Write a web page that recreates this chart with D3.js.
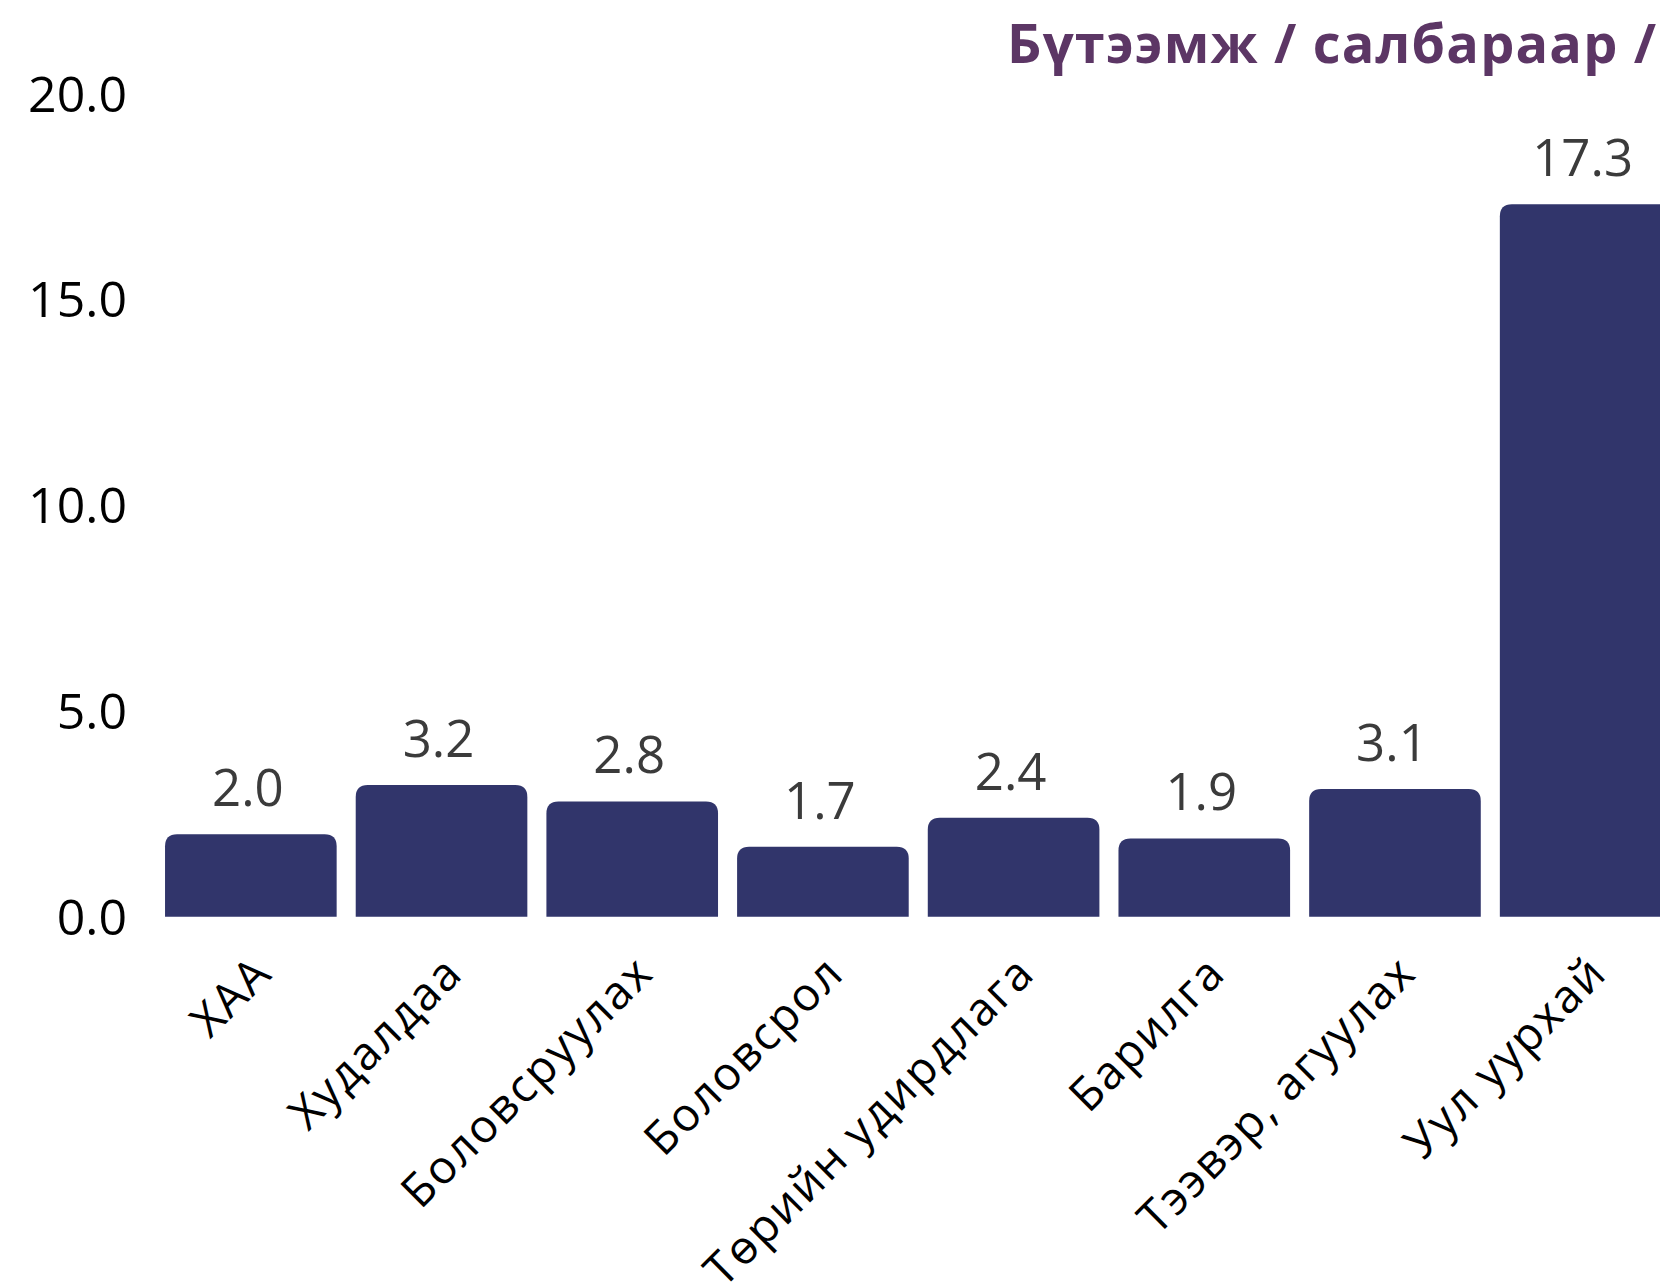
<!DOCTYPE html>
<html>
<head>
<meta charset="utf-8">
<script src="https://cdn.jsdelivr.net/npm/d3@7"></script>
<style>
  html, body { margin: 0; padding: 0; background: #fff; overflow: hidden; }
  svg { display: block; }
</style>
</head>
<body>
<svg id="chart" width="1660" height="1282"></svg>
<script>
// sectors and productivity values
var sectors = ["ХАА", "Худалдаа", "Боловсруулах", "Боловсрол", "Төрийн удирдлага", "Барилга", "Тээвэр, агуулах", "Уул уурхай"];
var values = [2.0, 3.2, 2.8, 1.7, 2.4, 1.9, 3.1, 17.3];
var yTicks = [0, 5, 10, 15, 20];
var title = "Бүтээмж / салбараар /";

var font = "'Open Sans', 'Noto Sans', sans-serif";
var barColor = "#31356b";

var svg = d3.select("#chart");

var x = d3.scaleBand()
  .domain(sectors)
  .range([155.5, 1681])
  .paddingInner(0.1)
  .paddingOuter(0.05);

var y = d3.scaleLinear()
  .domain([0, 20])
  .range([916.7, 93]);

// title (runs off the right edge like the original)
svg.append("text")
  .attr("x", 1007)
  .attr("y", 63)
  .attr("font-family", font)
  .attr("font-weight", 700)
  .attr("font-size", 54)
  .attr("letter-spacing", "1.2px")
  .attr("fill", "#5c3665")
  .text(title);

// y axis labels only, no line or ticks
var yAxis = d3.axisLeft(y)
  .tickValues(yTicks)
  .tickFormat(d3.format(".1f"))
  .tickSize(0)
  .tickPadding(0);

var gy = svg.append("g")
  .attr("transform", "translate(127,0)")
  .call(yAxis);
gy.select(".domain").remove();
gy.selectAll("text")
  .attr("font-family", font)
  .attr("font-size", 50)
  .attr("fill", "#000")
  .attr("dy", "0.36em");

// bars with rounded top corners
function barPath(d, i) {
  var x0 = x(sectors[i]), w = x.bandwidth();
  var top = y(d), base = y(0), r = 12;
  return "M" + x0 + "," + base +
    "V" + (top + r) +
    "Q" + x0 + "," + top + " " + (x0 + r) + "," + top +
    "H" + (x0 + w - r) +
    "Q" + (x0 + w) + "," + top + " " + (x0 + w) + "," + (top + r) +
    "V" + base + "Z";
}

svg.append("g")
  .selectAll("path")
  .data(values)
  .enter()
  .append("path")
  .attr("d", barPath)
  .attr("fill", barColor);

// value labels above bars
svg.append("g")
  .selectAll("text")
  .data(values)
  .enter()
  .append("text")
  .attr("x", function(d, i) { return x(sectors[i]) + x.bandwidth() / 2 - 3; })
  .attr("y", function(d) { return y(d) - 28; })
  .attr("text-anchor", "middle")
  .attr("font-family", font)
  .attr("font-size", 51)
  .attr("fill", "#3b3b3b")
  .text(function(d) { return d3.format(".1f")(d); });

// rotated category labels
var gx = svg.append("g")
  .attr("transform", "translate(0,952)")
  .call(d3.axisBottom(x).tickSize(0).tickPadding(0));
gx.select(".domain").remove();
gx.selectAll("text")
  .attr("font-family", font)
  .attr("font-size", 46)
  .attr("letter-spacing", "2px")
  .attr("fill", "#000")
  .attr("text-anchor", "end")
  .attr("dy", "0.72em")
  .attr("transform", "rotate(-45)");
</script>
</body>
</html>
